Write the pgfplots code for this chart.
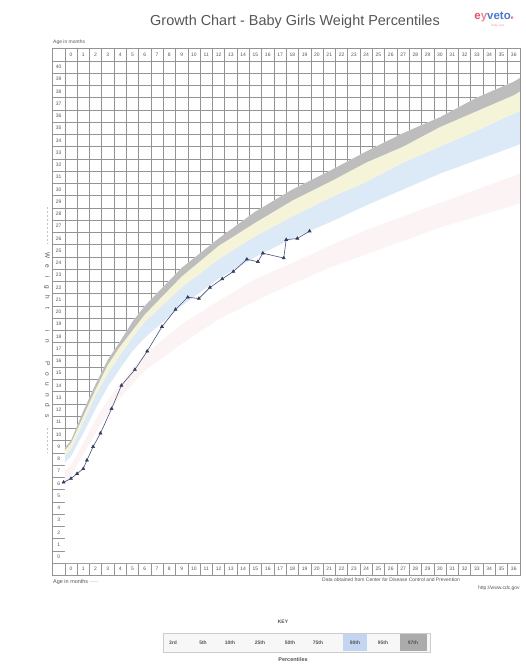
\documentclass[border=0pt]{standalone}
\usepackage{fontspec}
\setmainfont{Liberation Sans}
\usepackage{pgfplots}
\pgfplotsset{compat=1.18}
\usepackage{pgfplotstable}
\usepgfplotslibrary{fillbetween}

\definecolor{gridcol}{HTML}{949494}
\definecolor{txtcol}{HTML}{555555}
\definecolor{grayband}{HTML}{BDBDBD}
\definecolor{yellowband}{HTML}{F6F4D8}
\definecolor{blueband}{HTML}{DCE9F7}
\definecolor{pinkband}{HTML}{FCF4F4}
\definecolor{linecol}{HTML}{46507A}
\definecolor{markcol}{HTML}{353B5C}
\definecolor{logored}{HTML}{E0506A}
\definecolor{logoblue}{HTML}{4A78D0}
\definecolor{keyblue}{HTML}{C3D5F0}
\definecolor{keygray}{HTML}{ABABAB}

% percentile curves, pounds
\pgfplotstableread{
m     bot   p3    p5    p10   p25   p50   p75   p90   p95   p97
-0.5  -0.5  5.0   5.2   5.6   6.2   7.0   7.7   8.3   8.7   8.9
0     -0.5  5.3   5.5   6.0   6.6   7.5   8.2   8.8   9.3   9.5
1     -0.5  7.1   7.3   7.7   8.4   9.3   10.1  11.0  11.5  11.9
2     -0.5  8.6   8.8   9.5   10.1  11.2  12.1  13.2  13.7  14.1
3     -0.5  9.9   10.4  10.8  11.7  12.8  13.9  15.0  15.7  16.1
4     -0.5  11.0  11.5  12.1  13.0  14.1  15.4  16.5  17.2  17.6
5     -0.5  12.1  12.6  13.0  14.1  15.4  16.8  17.9  18.5  19.2
6     -0.5  13.0  13.4  14.1  15.2  16.5  17.9  19.2  19.8  20.5
9     -0.5  15.2  15.7  16.3  17.4  19.0  20.5  22.0  22.9  23.6
12    -0.5  17.0  17.4  18.1  19.4  20.9  22.7  24.3  25.4  26.0
15    -0.5  18.3  18.7  19.6  20.9  22.7  24.5  26.2  27.3  28.2
18    -0.5  19.6  20.1  20.9  22.3  24.0  26.0  27.8  29.1  30.0
21    -0.5  20.7  21.2  22.0  23.6  25.4  27.3  29.3  30.6  31.5
24    -0.5  21.8  22.3  23.1  24.7  26.7  28.7  30.6  32.2  33.1
27    -0.5  22.7  23.4  24.3  25.8  27.8  30.0  32.2  33.5  34.6
30    -0.5  23.6  24.3  25.1  26.9  28.9  31.3  33.5  35.1  35.9
33    -0.5  24.5  25.1  26.0  27.8  30.0  32.4  34.8  36.4  37.5
36    -0.5  25.4  26.0  26.9  28.7  31.1  33.5  36.2  37.7  38.8
36.5  -0.5  25.5  26.1  27.0  28.9  31.3  33.7  36.4  38.0  39.1
}\pcurves

\newcommand{\lbl}{\fontsize{5}{5}\selectfont}
\newcommand{\lt}[1]{\makebox[10.5bp]{#1}}

\begin{document}
\begin{tikzpicture}
% title and logo
\node[font=\fontsize{14.5}{16}\selectfont, text=txtcol] at (295bp,-22bp)
  {Growth Chart - Baby Girls Weight Percentiles};
\node[font=\fontsize{11.5}{11}\selectfont\bfseries, inner sep=0pt] at (494bp,-17bp)
  {\textcolor{logored}{e}\textcolor{logored!70}{y}\textcolor{logoblue}{veto}\textcolor{logored}{\tiny e}};
\node[font=\fontsize{3}{3}\selectfont, text=logored!60, inner sep=0pt] at (498bp,-26bp) {baby care};

\node[font=\lbl, text=txtcol, anchor=west, inner sep=0pt] at (53bp,-42bp) {Age in months};

\begin{axis}[
    at={(52.5bp,-48.6bp)}, anchor=north west,
    scale only axis,
    width=467.4bp, height=526.75bp,
    xmin=-1.5, xmax=36.5,
    ymin=-1.5, ymax=41.5,
    xtick={-0.5,0.5,...,36.5},
    ytick={-0.5,0.5,...,40.5},
    xticklabels={}, yticklabels={},
    major tick length=0pt,
    grid=major,
    major grid style={gridcol, line width=0.5pt},
    axis line style={gridcol, line width=0.6pt},
]
\addplot[draw=none, name path=bot] table[x=m, y=bot] {\pcurves};
\addplot[draw=none, name path=p25] table[x=m, y=p25] {\pcurves};
\addplot[draw=none, name path=p50] table[x=m, y=p50] {\pcurves};
\addplot[draw=none, name path=p75] table[x=m, y=p75] {\pcurves};
\addplot[draw=none, name path=p90] table[x=m, y=p90] {\pcurves};
\addplot[draw=none, name path=p95] table[x=m, y=p95] {\pcurves};
\addplot[draw=none, name path=p97] table[x=m, y=p97] {\pcurves};

\addplot[fill=white, draw=none] fill between[of=p97 and bot];
\addplot[fill=pinkband, draw=none] fill between[of=p50 and p25];
\addplot[fill=blueband, draw=none] fill between[of=p90 and p75];
\addplot[fill=yellowband, draw=none] fill between[of=p95 and p90];
\addplot[fill=grayband, draw=none] fill between[of=p97 and p95];

% the baby's weights
\addplot[linecol, line width=0.6pt, mark=triangle*, mark size=1.7pt,
         mark options={fill=markcol, draw=markcol}] coordinates {
  (-0.6,6.1) (0.0,6.4) (0.5,6.8) (1.0,7.2) (1.3,7.9) (1.8,9.0)
  (2.4,10.1) (3.3,12.1) (4.1,14.0) (5.2,15.3) (6.2,16.8) (7.4,18.8)
  (8.5,20.2) (9.5,21.2) (10.4,21.1) (11.3,22.0) (12.3,22.7) (13.2,23.3)
  (14.3,24.3) (15.2,24.1) (15.6,24.8) (17.3,24.4) (17.5,25.9) (18.4,26.0)
  (19.4,26.6)
};

\pgfplotsinvokeforeach{0,...,36}{
  \node[font=\lbl, text=txtcol, inner sep=0pt] at (axis cs:#1,41) {#1};
  \node[font=\lbl, text=txtcol, inner sep=0pt] at (axis cs:#1,-1) {#1};
}
\pgfplotsinvokeforeach{0,...,40}{
  \node[font=\lbl, text=txtcol, inner sep=0pt] at (axis cs:-1,#1) {#1};
}
\end{axis}

% vertical axis title
\node[font=\fontsize{6.5}{6.5}\selectfont, text=txtcol, rotate=-90, inner sep=0pt] at (47bp,-336bp)
  {\lt{W}\lt{e}\lt{i}\lt{g}\lt{h}\lt{t}\hspace{12bp}\lt{i}\lt{n}\hspace{12bp}\lt{P}\lt{o}\lt{u}\lt{n}\lt{d}\lt{s}};
\draw[txtcol!35, line width=0.4pt, dash pattern=on 2pt off 2pt] (47bp,-207bp) -- (47bp,-243bp);
\draw[txtcol!35, line width=0.4pt, dash pattern=on 2pt off 2pt] (47bp,-428bp) -- (47bp,-452bp);

% bottom notes
\node[font=\fontsize{5.5}{6}\selectfont, text=txtcol, anchor=west, inner sep=0pt] at (53bp,-582bp)
  {Age in months \textcolor{txtcol!40}{-----}};
\begin{scope}
\clip (0,0) rectangle (526bp,-664bp);
\node[font=\fontsize{5}{6}\selectfont, text=txtcol, anchor=west, inner sep=0pt] at (322bp,-580bp)
  {Data obtained from Center for Disease Control and Prevention};
\node[font=\fontsize{5}{6}\selectfont, text=txtcol, anchor=west, inner sep=0pt] at (478bp,-588bp)
  {http://www.cdc.gov};
\end{scope}

% key
\node[font=\fontsize{5}{5}\selectfont\bfseries, text=txtcol] at (283bp,-622bp) {KEY};
\draw[gray!40, fill=gray!6] (163bp,-633bp) rectangle (430bp,-652bp);
\fill[keyblue] (343bp,-634bp) rectangle (367bp,-651bp);
\fill[keygray] (400bp,-634bp) rectangle (427bp,-651bp);
\foreach \xx/\tt in {173/3rd, 203/5th, 230/10th, 260/25th, 290/50th, 318/75th, 355/90th, 383/95th, 413/97th}{
  \node[font=\fontsize{5}{5}\selectfont\bfseries, text=txtcol] at (\xx bp,-642.5bp) {\tt};
}
\begin{scope}
\clip (0,0) rectangle (526bp,-664bp);
\node[font=\fontsize{5.5}{6}\selectfont\bfseries, text=txtcol] at (293bp,-660bp) {Percentiles};
\end{scope}

\pgfresetboundingbox
\useasboundingbox (0,0) rectangle (526bp,-664bp);
\end{tikzpicture}
\end{document}
